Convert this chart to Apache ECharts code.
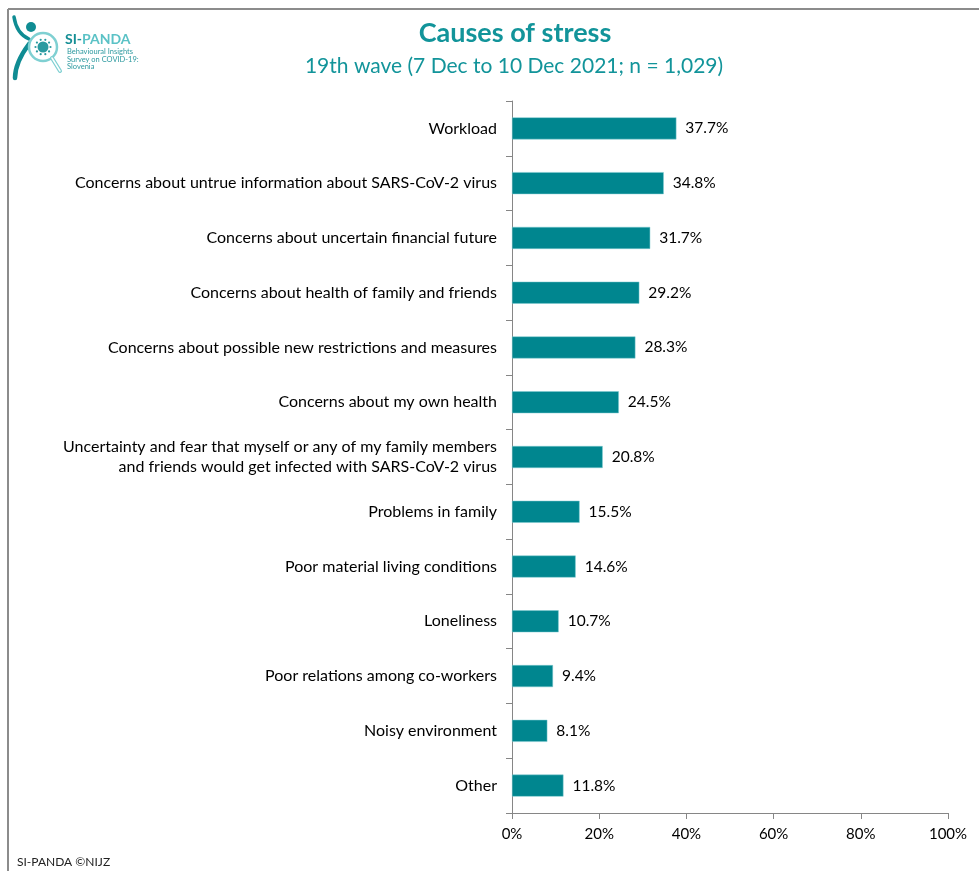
<!DOCTYPE html>
<html>
<head>
<meta charset="utf-8">
<script src="https://cdn.jsdelivr.net/npm/echarts@6/dist/echarts.min.js"></script>
<style>
  html, body { margin: 0; padding: 0; background: #fff; }
  #chart { width: 979px; height: 871px; }
</style>
</head>
<body>
<div id="chart"></div>
<script>
// Causes of stress, 19th wave of the SI-PANDA survey
const categories = [
  'Workload',
  'Concerns about untrue information about SARS-CoV-2 virus',
  'Concerns about uncertain financial future',
  'Concerns about health of family and friends',
  'Concerns about possible new restrictions and measures',
  'Concerns about my own health',
  'Uncertainty and fear that myself or any of my family members\nand friends would get infected with SARS-CoV-2 virus',
  'Problems in family',
  'Poor material living conditions',
  'Loneliness',
  'Poor relations among co-workers',
  'Noisy environment',
  'Other'
];
const shares = [37.7, 34.8, 31.7, 29.2, 28.3, 24.5, 20.8, 15.5, 14.6, 10.7, 9.4, 8.1, 11.8];
const xTicks = [0, 20, 40, 60, 80, 100];

const FONT = 'Lato, "Open Sans", sans-serif';
const TEAL = '#00868F';
const TITLE_TEAL = '#12949A';
const LOGO_DARK = '#0F8C93';
const LOGO_LIGHT = '#7FD0D2';

// small spikes around the virus glyph in the logo
const virusDots = [];
for (let i = 0; i < 10; i++) {
  const a = (i / 10) * Math.PI * 2;
  virusDots.push({
    type: 'circle',
    shape: { cx: 43 + Math.cos(a) * 7.5, cy: 47 + Math.sin(a) * 7.5, r: 1.1 },
    style: { fill: '#2A9AA0' }
  });
}

const chart = echarts.init(document.getElementById('chart'), null, { renderer: 'canvas' });

chart.setOption({
  animation: false,
  backgroundColor: '#fff',
  title: [
    {
      text: 'Causes of stress',
      left: 510, top: 15, textAlign: 'center',
      textStyle: { fontFamily: FONT, fontSize: 27, fontWeight: 'bold', color: TITLE_TEAL }
    },
    {
      text: '19th wave (7 Dec to 10 Dec 2021; n = 1,029)',
      left: 509, top: 51, textAlign: 'center',
      textStyle: { fontFamily: FONT, fontSize: 21, fontWeight: 'normal', color: TITLE_TEAL }
    }
  ],
  grid: { left: 512, right: 31, top: 101, bottom: 58, containLabel: false },
  xAxis: {
    type: 'value',
    min: 0, max: 100, interval: 20,
    axisLine: { show: true, lineStyle: { color: '#868686', width: 1 } },
    axisTick: { show: true, length: 6, lineStyle: { color: '#868686' } },
    splitLine: { show: false },
    axisLabel: {
      margin: 14,
      fontFamily: FONT, fontSize: 15, color: '#000',
      formatter: v => (xTicks.includes(v) ? v + '%' : '')
    }
  },
  yAxis: {
    type: 'category',
    inverse: true,
    data: categories,
    axisLine: { show: true, lineStyle: { color: '#868686', width: 1 } },
    axisTick: { show: true, length: 6, lineStyle: { color: '#868686' } },
    axisLabel: {
      margin: 15,
      fontFamily: FONT, fontSize: 16, color: '#000',
      lineHeight: 20, align: 'right'
    }
  },
  series: [{
    type: 'bar',
    data: shares,
    barWidth: 22,
    itemStyle: { color: TEAL, borderColor: '#7FCBD0', borderWidth: 0.5 },
    label: {
      show: true,
      position: 'right',
      distance: 9,
      fontFamily: FONT, fontSize: 15.5, color: '#000',
      formatter: p => p.value.toFixed(1) + '%'
    }
  }],
  graphic: [
    // outer frame (top and left edges)
    { type: 'line', shape: { x1: 8, y1: 9, x2: 979, y2: 9 }, style: { stroke: '#8c8c8c', lineWidth: 2 } },
    { type: 'line', shape: { x1: 8, y1: 9, x2: 8, y2: 871 }, style: { stroke: '#8c8c8c', lineWidth: 2 } },
    // logo: figure holding a magnifying glass over a virus
    { type: 'circle', shape: { cx: 31, cy: 27, r: 5 }, style: { fill: LOGO_DARK } },
    { type: 'bezierCurve', shape: { x1: 14, y1: 17, cpx1: 16, cpy1: 30, x2: 29, y2: 39, cpx2: 22, cpy2: 36 },
      style: { stroke: LOGO_DARK, lineWidth: 3.5, fill: null, lineCap: 'round' } },
    { type: 'bezierCurve', shape: { x1: 29, y1: 44, cpx1: 20, cpy1: 56, x2: 15, y2: 78, cpx2: 15, cpy2: 68 },
      style: { stroke: LOGO_DARK, lineWidth: 4.5, fill: null, lineCap: 'round' } },
    { type: 'circle', shape: { cx: 43, cy: 47, r: 14 }, style: { fill: '#fff', stroke: LOGO_LIGHT, lineWidth: 2.5 } },
    { type: 'line', shape: { x1: 52, y1: 58, x2: 60, y2: 71 }, style: { stroke: LOGO_LIGHT, lineWidth: 4, lineCap: 'round' } },
    { type: 'line', shape: { x1: 52, y1: 58, x2: 60, y2: 71 }, style: { stroke: '#fff', lineWidth: 1.5, lineCap: 'round' } },
    { type: 'circle', shape: { cx: 43, cy: 47, r: 5.5 }, style: { fill: '#2A9AA0' } },
    ...virusDots,
    {
      type: 'text', left: 65, top: 32,
      style: {
        text: '{a|SI-}{b|PANDA}',
        rich: {
          a: { fontFamily: FONT, fontSize: 14, fontWeight: 'bold', fill: '#148E94' },
          b: { fontFamily: FONT, fontSize: 14, fontWeight: 'bold', fill: '#5BC2C6' }
        }
      }
    },
    {
      type: 'text', left: 67, top: 48,
      style: {
        text: 'Behavioural Insights\nSurvey on COVID-19:\nSlovenia',
        fontFamily: FONT, fontSize: 7.5, lineHeight: 7.5, fill: '#2E9AA0'
      }
    },
    // footer
    {
      type: 'text', left: 17, top: 856,
      style: { text: 'SI-PANDA ©NIJZ', fontFamily: FONT, fontSize: 12, fill: '#222' }
    }
  ]
});
</script>
</body>
</html>
